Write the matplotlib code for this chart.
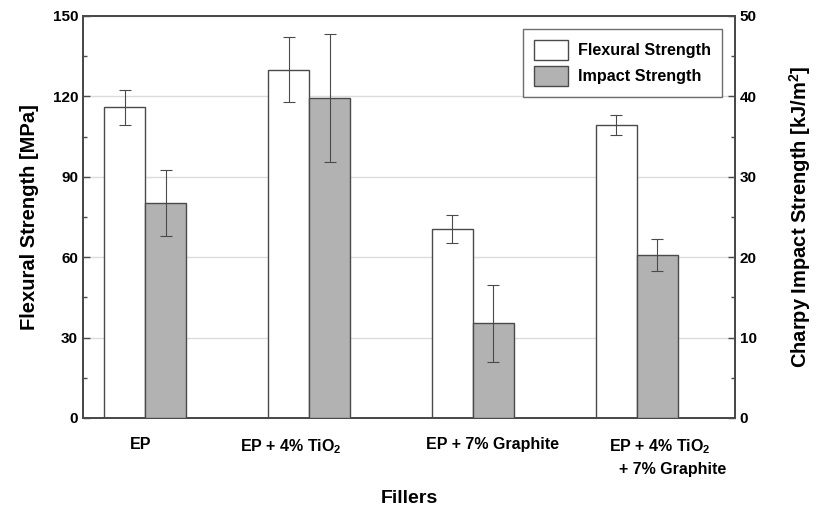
import numpy as np
import matplotlib
matplotlib.use("Agg")
import matplotlib.pyplot as plt
from matplotlib.ticker import MultipleLocator
from matplotlib.patches import Patch

# ---------------------------------------------------------------- data
fillers = ["EP", "EP + 4% TiO$_2$", "EP + 7% Graphite",
           "EP + 4% TiO$_2$\n      + 7% Graphite"]
flexural = [116, 130, 70.5, 109.3]        # MPa
flexural_err = [6.5, 12.2, 5.2, 3.7]
impact = [26.7, 39.8, 11.8, 20.3]         # kJ/m^2
impact_err = [4.1, 8.0, 4.8, 2.0]

# ---------------------------------------------------------------- style
plt.rcParams["font.family"] = ["Liberation Sans", "DejaVu Sans"]
plt.rcParams["font.weight"] = "bold"
plt.rcParams["mathtext.fontset"] = "custom"
plt.rcParams["mathtext.rm"] = "Liberation Sans:bold"
plt.rcParams["mathtext.default"] = "rm"

edge = "#4a4a4a"
grey = "#b2b2b2"

fig = plt.figure(figsize=(8.16, 5.09), dpi=100)
ax1 = fig.add_axes([0.1017, 0.1788, 0.7990, 0.7898])
ax2 = ax1.twinx()

x = np.arange(len(fillers))
w = 0.25
err_style = dict(ecolor=edge, elinewidth=0.8, capsize=4.5, capthick=0.8)

ax1.bar(x - w / 2, flexural, w, color="white", edgecolor=edge, linewidth=1.0,
        yerr=flexural_err, error_kw=err_style, zorder=3)
ax2.bar(x + w / 2, impact, w, color=grey, edgecolor=edge, linewidth=1.0,
        yerr=impact_err, error_kw=err_style, zorder=3)

ax1.set_ylim(0, 150)
ax2.set_ylim(0, 50)
ax1.set_xlim(-0.38, 3.6)
ax1.yaxis.set_major_locator(MultipleLocator(30))
ax1.yaxis.set_minor_locator(MultipleLocator(15))
ax2.yaxis.set_major_locator(MultipleLocator(10))
ax2.yaxis.set_minor_locator(MultipleLocator(5))
ax1.grid(axis="y", color="#dcdcdc", linewidth=1.0, zorder=0)
ax1.set_axisbelow(True)

label_shift = [-0.03, -0.11, 0.12, 0.14]
ax1.set_xticks(x + np.array(label_shift))
ax1.set_xticklabels(fillers, fontsize=11.5, ha="center", linespacing=1.5)
ax1.tick_params(axis="x", length=0, pad=14)

for a in (ax1, ax2):
    a.tick_params(axis="y", which="major", direction="in", length=5, width=1.0,
                  color=edge, labelsize=11)
    a.tick_params(axis="y", which="minor", direction="in", length=3, width=1.0, color=edge)
    for s in a.spines.values():
        s.set_color(edge)
        s.set_linewidth(1.4)

ax1.set_ylabel("Flexural Strength [MPa]", fontsize=14.5, fontweight="bold", labelpad=10)
ax2.set_ylabel("Charpy Impact Strength [kJ/m$^2$]", fontsize=14.5, fontweight="bold",
               labelpad=22)
ax1.set_xlabel("Fillers", fontsize=14, fontweight="bold", labelpad=9)

handles = [Patch(facecolor="white", edgecolor=edge, label="Flexural Strength"),
           Patch(facecolor=grey, edgecolor=edge, label="Impact Strength")]
leg = ax2.legend(handles=handles, loc="upper right", bbox_to_anchor=(0.98, 0.968),
                 borderaxespad=0, fontsize=11.6, frameon=True, fancybox=False,
                 edgecolor=edge, handlelength=2.1, handleheight=1.5, borderpad=0.7,
                 labelspacing=0.4, handletextpad=0.6)
leg.get_frame().set_linewidth(1.0)

fig.savefig("out.png", dpi=100)
